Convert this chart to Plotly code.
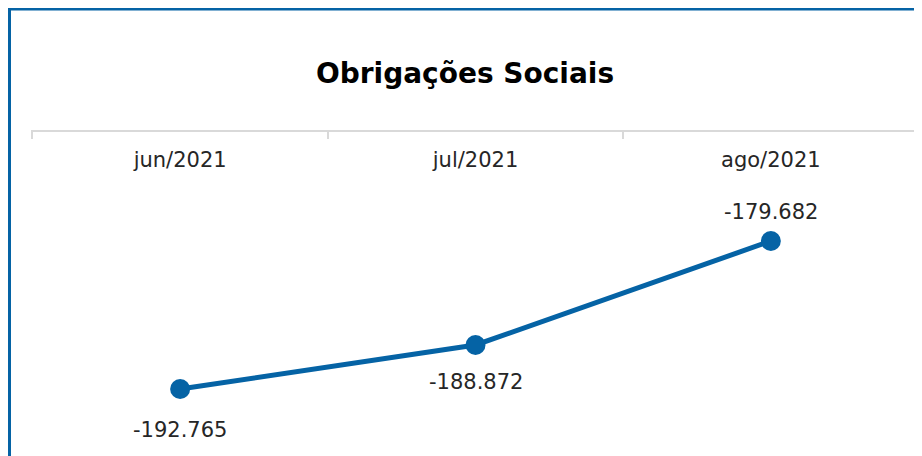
import plotly.graph_objects as go

categories = ["jun/2021", "jul/2021", "ago/2021"]
values = [-192765, -188872, -179682]
label_shifts = [-41, -37, 29]
title_text = "Obrigações Sociais"

BLUE = "#0563a5"
FONT = "DejaVu Sans, Verdana, sans-serif"
W, H = 922, 456
OFF = 8  # page offset from body margin
ML, MR, MT, MB = 32 - OFF - 1, 10, 132 - OFF, OFF

fig = go.Figure()
fig.add_trace(go.Scatter(
    x=categories, y=values,
    mode="lines+markers",
    line=dict(color=BLUE, width=5),
    marker=dict(size=20, color=BLUE),
    cliponaxis=False,
    hoverinfo="skip",
))

for c, v, s in zip(categories, values, label_shifts):
    fig.add_annotation(x=c, y=v, text=f"{v:,.0f}".replace(",", "."),
                       showarrow=False, yshift=s, yanchor="middle",
                       font=dict(family=FONT, size=21, color="#262626"))

pw = W - ML - MR
ph = H - MT - MB
def px_x(p):
    return (p - OFF - ML) / pw
def px_y(p):
    return (H - MB - (p - OFF)) / ph

fig.update_layout(
    width=W, height=H,
    margin=dict(l=ML, r=MR, t=MT, b=MB),
    paper_bgcolor="white", plot_bgcolor="white",
    separators=",.",
    showlegend=False,
    title=dict(text="<b>" + title_text + "</b>", x=(465 - OFF) / W, xanchor="center",
               y=1 - (73 - OFF) / H, yanchor="middle",
               font=dict(family=FONT, size=28, color="#000000")),
    xaxis=dict(side="top", type="category", range=[-0.505, 2.505],
               showline=True, linecolor="#d9d9d9", linewidth=2,
               ticks="inside", tickson="boundaries", ticklen=7, tickcolor="#d9d9d9", tickwidth=2,
               ticklabelposition="inside", ticklabelstandoff=15,
               tickfont=dict(family=FONT, size=21, color="#262626"),
               showgrid=False, zeroline=False, fixedrange=True),
    yaxis=dict(range=[-198.69e3, -170.04e3], visible=False, showgrid=False, zeroline=False),
    shapes=[
        dict(type="line", xref="paper", yref="paper", x0=px_x(9.5), x1=px_x(935),
             y0=px_y(9), y1=px_y(9), line=dict(color=BLUE, width=3)),
        dict(type="line", xref="paper", yref="paper", x0=px_x(9.5), x1=px_x(9.5),
             y0=px_y(7.5), y1=px_y(470), line=dict(color=BLUE, width=3)),
    ],
)

fig.write_html("out.html")
